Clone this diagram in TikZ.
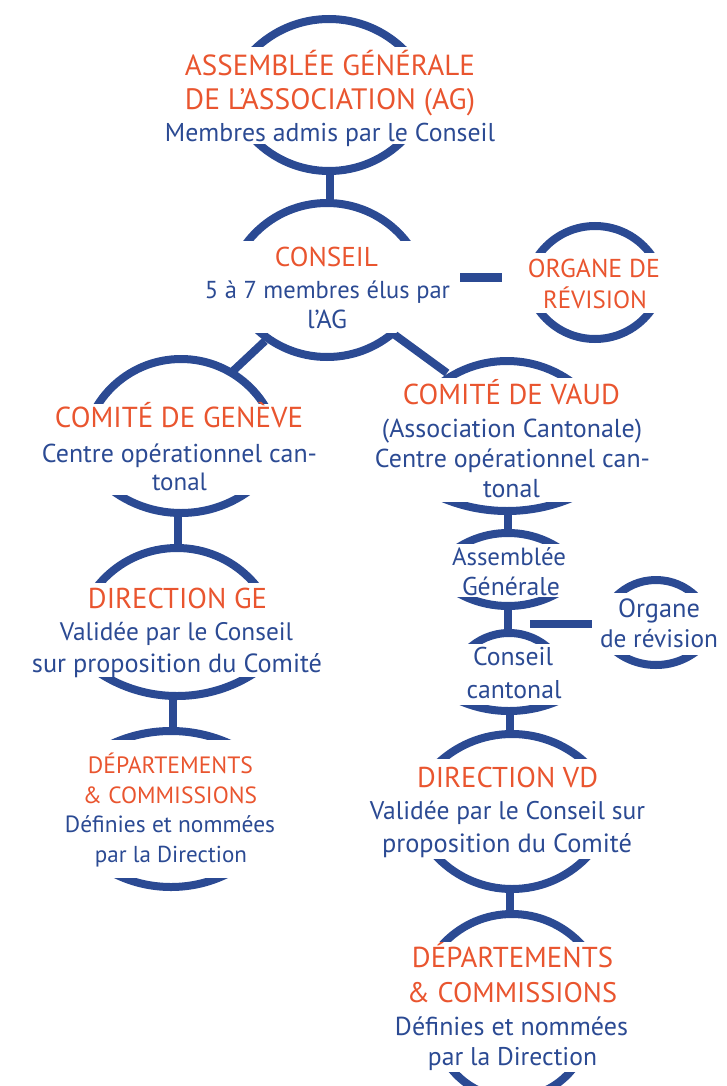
\documentclass[tikz,border=0pt]{standalone}
\usepackage{fontspec}
\setmainfont{PT Sans}
\definecolor{org}{HTML}{E9552F}
\definecolor{blu}{HTML}{2B4A93}
\tikzset{
  arcline/.style={draw=blu,line width=8pt},
  conn/.style={draw=blu,line width=8pt},
  lbl/.style={anchor=base,inner sep=0pt}
}
% top arc: cx, apex y, cut y, half width
\newcommand\toparc[4]{%
  \pgfmathsetmacro\myS{#3-(#2)}%
  \pgfmathsetmacro\myR{((#4)*(#4)+\myS*\myS)/(2*\myS)}%
  \begin{scope}
    \clip (#1-\myR-10,#3) rectangle (#1+\myR+10,#2-10);
    \draw[arcline] (#1,#2+\myR) circle[radius=\myR pt];
  \end{scope}}
% bottom arc: cx, apex y, cut y, half width
\newcommand\botarc[4]{%
  \pgfmathsetmacro\myS{#2-(#3)}%
  \pgfmathsetmacro\myR{((#4)*(#4)+\myS*\myS)/(2*\myS)}%
  \begin{scope}
    \clip (#1-\myR-10,#3) rectangle (#1+\myR+10,#2+10);
    \draw[arcline] (#1,#2-\myR) circle[radius=\myR pt];
  \end{scope}}
\newcommand\tline[6]{\node[lbl,text=#5] (#1) at (#2,#3) {\resizebox{#4pt}{!}{#6}};}
\begin{document}
\begin{tikzpicture}[x=1pt,y=-1pt]
\useasboundingbox (0,0) rectangle (726,1086);

% ---- arcs
\toparc{329}{19}{47}{72}   \botarc{329}{171}{145}{69}   % AG
\toparc{327}{203}{240}{78} \botarc{327}{357}{333}{66}   % Conseil
\toparc{595}{226}{252}{54} \botarc{595}{339}{313}{54}   % Organe
\toparc{181}{359}{403}{82} \botarc{181}{513}{495}{62}   % Geneve
\toparc{507}{361}{377}{57} \botarc{507}{511}{502}{54}   % Vaud
\toparc{508}{533}{543}{42} \botarc{508}{606}{597}{42}   % AG VD
\toparc{509}{633}{643}{33} \botarc{509}{711}{705}{38}   % Conseil cantonal
\toparc{656}{580}{592}{35} \botarc{656}{665}{655}{35}   % Organe VD
\toparc{512}{734}{758}{68} \botarc{512}{889}{859}{73}   % Direction VD
\toparc{512}{914}{941}{66} \botarc{512}{1098}{1072}{58} % Dep VD
\toparc{177}{548}{582}{76} \botarc{177}{696}{677}{71}   % Direction GE
\toparc{171}{731}{739}{47} \botarc{171}{887}{878}{47}   % Dep GE

% ---- connector end points
\coordinate (agB) at (330,171);   \coordinate (coT) at (330,203);
\coordinate (coBL) at (265,341);  \coordinate (geT) at (233,371);
\coordinate (coBR) at (395,335);  \coordinate (vdT) at (447,373);
\coordinate (coR) at (460,277.5); \coordinate (orL) at (502,277.5);
\coordinate (geB) at (178,513);   \coordinate (dgT) at (178,548);
\coordinate (dgB) at (173,696);   \coordinate (pgT) at (173,731);
\coordinate (vdB) at (508,511);   \coordinate (saT) at (508,533);
\coordinate (saB) at (508,606);   \coordinate (ccT) at (508,633);
\coordinate (ccB) at (510,711);   \coordinate (dvT) at (510,734);
\coordinate (dvB) at (510,889);   \coordinate (pvT) at (510,914);
\coordinate (saR) at (530,623.5); \coordinate (osL) at (592,623.5);

\draw[conn] (agB) -- (coT);
\draw[conn] (coBL) -- (geT);
\draw[conn] (coBR) -- (vdT);
\draw[conn,line width=9pt] (coR) -- (orL);
\draw[conn] (geB) -- (dgT);
\draw[conn] (dgB) -- (pgT);
\draw[conn] (vdB) -- (saT);
\draw[conn] (saB) -- (ccT);
\draw[conn] (ccB) -- (dvT);
\draw[conn] (dvB) -- (pvT);
\draw[conn] (saR) -- (osL);

% ---- texts
\tline{ag1}{330}{76}{290}{org}{ASSEMBLÉE GÉNÉRALE}
\tline{ag2}{330}{110}{290}{org}{DE L’ASSOCIATION (AG)}
\tline{ag3}{330}{142}{330}{blu}{Membres admis par le Conseil}

\tline{co1}{326.5}{266}{103}{org}{CONSEIL}
\tline{co2}{327.5}{298}{245}{blu}{5 à 7 membres élus par}
\tline{co3}{327}{328}{40}{blu}{l’AG}

\tline{or1}{594}{277}{132}{org}{ORGANE DE}
\tline{or2}{595}{308}{104}{org}{RÉVISION}

\tline{ge1}{179}{427}{248}{org}{COMITÉ DE GENÈVE}
\tline{ge2}{179.5}{462}{275}{blu}{Centre opérationnel can-}
\tline{ge3}{179.5}{490}{55}{blu}{tonal}

\tline{vd1}{511.5}{404}{217}{org}{COMITÉ DE VAUD}
\tline{vd2}{512}{437}{260}{blu}{(Association Cantonale)}
\tline{vd3}{512.5}{467}{275}{blu}{Centre opérationnel can-}
\tline{vd4}{511.5}{497}{57}{blu}{tonal}

\tline{sa1}{509}{565}{114}{blu}{Assemblée}
\tline{sa2}{511}{595}{98}{blu}{Générale}

\tline{cc1}{513}{665}{80}{blu}{Conseil}
\tline{cc2}{514}{698}{95}{blu}{cantonal}

\tline{os1}{659}{617}{82}{blu}{Organe}
\tline{os2}{659}{647}{118}{blu}{de révision}

\tline{dv1}{507.5}{787}{181}{org}{DIRECTION VD}
\tline{dv2}{507.5}{819}{275}{blu}{Validée par le Conseil sur}
\tline{dv3}{507}{852}{250}{blu}{proposition du Comité}

\tline{pv1}{512.5}{967}{201}{org}{DÉPARTEMENTS}
\tline{pv2}{512}{1002}{210}{org}{\& COMMISSIONS}
\tline{pv3}{511.5}{1035}{233}{blu}{Définies et nommées}
\tline{pv4}{512.5}{1065}{169}{blu}{par la Direction}

\tline{dg1}{177.5}{608}{179}{org}{DIRECTION GE}
\tline{dg2}{176.5}{640}{233}{blu}{Validée par le Conseil}
\tline{dg3}{177}{672}{290}{blu}{sur proposition du Comité}

\tline{pg1}{170.5}{773}{165}{org}{DÉPARTEMENTS}
\tline{pg2}{170}{803}{174}{org}{\& COMMISSIONS}
\tline{pg3}{170}{832}{210}{blu}{Définies et nommées}
\tline{pg4}{171}{862}{152}{blu}{par la Direction}
\end{tikzpicture}
\end{document}
